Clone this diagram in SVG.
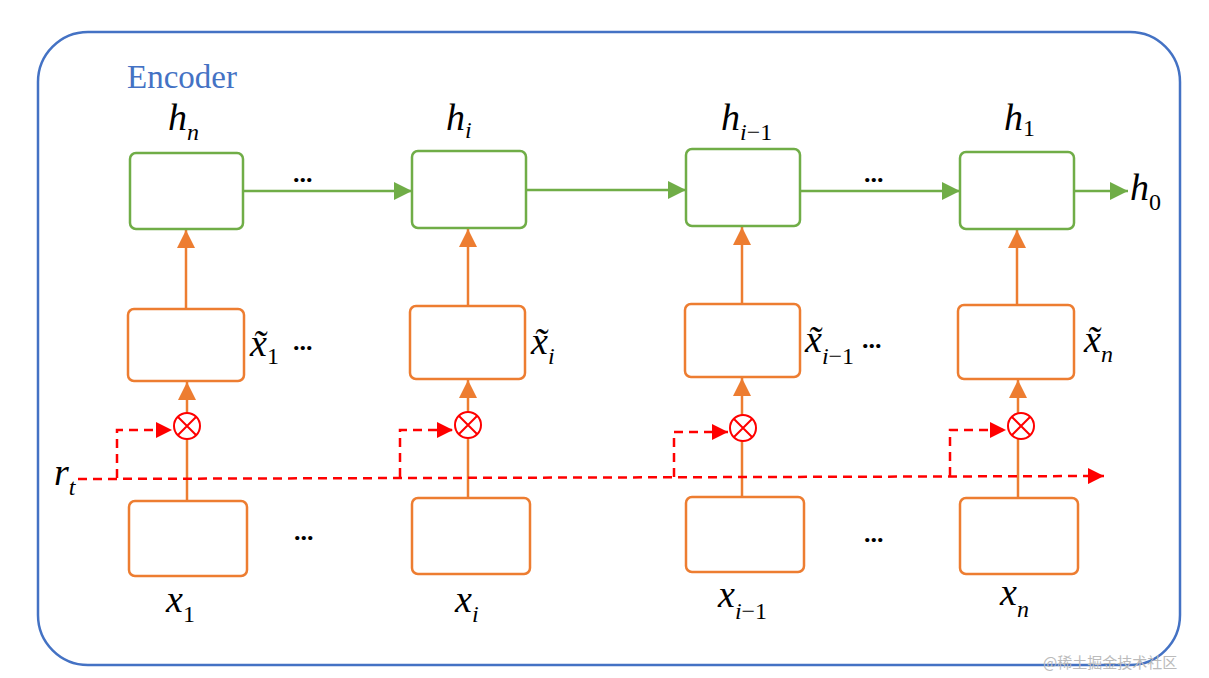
<svg xmlns="http://www.w3.org/2000/svg" width="1209" height="678" viewBox="0 0 1209 678">
<style>
.g{fill:#fff;stroke:#70ad47;stroke-width:2.5}
.o{fill:#fff;stroke:#ed7d31;stroke-width:2.5}
.s{font-size:24px}
.n{font-style:normal}
.ga{stroke:#70ad47;stroke-width:2.5;fill:none}
.oa{stroke:#ed7d31;stroke-width:2.5;fill:none;marker-end:url(#ao)}
.r{stroke:#ff0000;stroke-width:2.5;fill:none;stroke-dasharray:9,6;marker-end:url(#ar)}
.c{fill:#fff;stroke:#ff0000;stroke-width:2}
</style>
<defs>
<marker id="ag" viewBox="0 0 10 10" refX="10" refY="5" markerWidth="20" markerHeight="18" orient="auto" markerUnits="userSpaceOnUse"><path d="M0,0L10,5L0,10z" fill="#70ad47"/></marker>
<marker id="ao" viewBox="0 0 10 10" refX="10" refY="5" markerWidth="18" markerHeight="18" orient="auto" markerUnits="userSpaceOnUse"><path d="M0,0L10,5L0,10z" fill="#ed7d31"/></marker>
<marker id="ar" viewBox="0 0 10 10" refX="10" refY="5" markerWidth="16" markerHeight="16" orient="auto" markerUnits="userSpaceOnUse"><path d="M0,0L10,5L0,10z" fill="#ff0000"/></marker>
<g id="ox"><circle class="c" r="13"/><path d="M-9,-9L9,9M9,-9L-9,9" stroke="#ff0000" stroke-width="2"/></g>
</defs>
<rect width="1209" height="678" fill="#fff"/>
<rect x="38" y="32" width="1142" height="633" rx="50" fill="none" stroke="#4472c4" stroke-width="2.5"/>
<text x="127" y="88" font-family="Liberation Serif,serif" font-size="33" fill="#4472c4">Encoder</text>

<g id="connectors">
<line class="ga" x1="243" y1="191" x2="412" y2="191" marker-end="url(#ag)"/>
<line class="ga" x1="526" y1="190" x2="686" y2="190" marker-end="url(#ag)"/>
<line class="ga" x1="800" y1="191" x2="960" y2="191" marker-end="url(#ag)"/>
<line class="ga" x1="1074" y1="191" x2="1128" y2="191" stroke-width="3.5" marker-end="url(#ag)"/>
<line class="oa" x1="186" y1="309" x2="186" y2="230"/>
<line class="oa" x1="468" y1="306" x2="468" y2="229"/>
<line class="oa" x1="742" y1="304" x2="742" y2="227" stroke-width="3.5"/>
<line class="oa" x1="1017" y1="305" x2="1017" y2="230"/>
<line class="oa" x1="187" y1="501" x2="187" y2="382"/>
<line class="oa" x1="468" y1="498" x2="468" y2="380"/>
<line class="oa" x1="742" y1="497" x2="742" y2="378"/>
<line class="oa" x1="1018" y1="498" x2="1018" y2="380"/>
<path class="r" d="M78,479 L1104,476"/>
<path class="r" d="M117,478 V430 H172"/>
<path class="r" d="M400,477 V430 H453"/>
<path class="r" d="M674,477 V432 H728"/>
<path class="r" d="M950,476 V430 H1006"/>
</g>
<g id="mul1"><use href="#ox" x="187" y="426"/></g>
<g id="mul2"><use href="#ox" x="468" y="425"/></g>
<g id="mul3"><use href="#ox" x="743" y="428"/></g>
<g id="mul4"><use href="#ox" x="1021" y="426"/></g>

<g font-family="Liberation Serif, serif" font-style="italic" font-size="38" fill="#000">
<g id="h_n"><rect class="g" x="130" y="153" width="113" height="76" rx="6"/><text x="168" y="130">h<tspan class="s" dy="10">n</tspan></text></g>
<g id="h_i"><rect class="g" x="412" y="151" width="114" height="77" rx="6"/><text x="446" y="130">h<tspan class="s" dy="8">i</tspan></text></g>
<g id="h_im1"><rect class="g" x="686" y="149" width="114" height="77" rx="6"/><text x="721" y="130">h<tspan class="s" dy="10">i</tspan><tspan class="s n">−1</tspan></text></g>
<g id="h_1"><rect class="g" x="960" y="152" width="114" height="77" rx="6"/><text x="1004" y="130">h<tspan class="s n" dy="6">1</tspan></text></g>
<g id="h_0"><text x="1130" y="200">h<tspan class="s n" dy="10">0</tspan></text></g>

<g id="xt_1"><rect class="o" x="128" y="309" width="116" height="72" rx="6"/><text x="250" y="356">x̃<tspan class="s n" dy="8">1</tspan></text></g>
<g id="xt_i"><rect class="o" x="410" y="306" width="115" height="73" rx="6"/><text x="531" y="354">x̃<tspan class="s" dy="10">i</tspan></text></g>
<g id="xt_im1"><rect class="o" x="685" y="304" width="115" height="73" rx="6"/><text x="805" y="352">x̃<tspan class="s" dy="12">i</tspan><tspan class="s n">−1</tspan></text></g>
<g id="xt_n"><rect class="o" x="958" y="305" width="116" height="74" rx="6"/><text x="1084" y="352">x̃<tspan class="s" dy="10">n</tspan></text></g>

<g id="x_1"><rect class="o" x="129" y="501" width="118" height="75" rx="6"/><text x="166" y="612">x<tspan class="s n" dy="10">1</tspan></text></g>
<g id="x_i"><rect class="o" x="412" y="498" width="118" height="76" rx="6"/><text x="455" y="612">x<tspan class="s" dy="10">i</tspan></text></g>
<g id="x_im1"><rect class="o" x="686" y="497" width="118" height="75" rx="6"/><text x="718" y="607">x<tspan class="s" dy="12">i</tspan><tspan class="s n">−1</tspan></text></g>
<g id="x_n"><rect class="o" x="960" y="498" width="118" height="76" rx="6"/><text x="1000" y="605">x<tspan class="s" dy="12">n</tspan></text></g>
<g id="r_t"><text x="54" y="485">r<tspan class="s" dy="10">t</tspan></text></g>
</g>

<g font-family="Liberation Serif, serif" font-size="26" font-weight="bold" fill="#000">
<text x="293" y="182">...</text>
<text x="864" y="182">...</text>
<text x="293" y="350">...</text>
<text x="862" y="348">...</text>
<text x="294" y="540">...</text>
<text x="864" y="542">...</text>
</g>
<text x="1043" y="668" font-family="Noto Sans CJK SC,sans-serif" font-size="15" fill="#bbb">@稀土掘金技术社区</text>
</svg>
